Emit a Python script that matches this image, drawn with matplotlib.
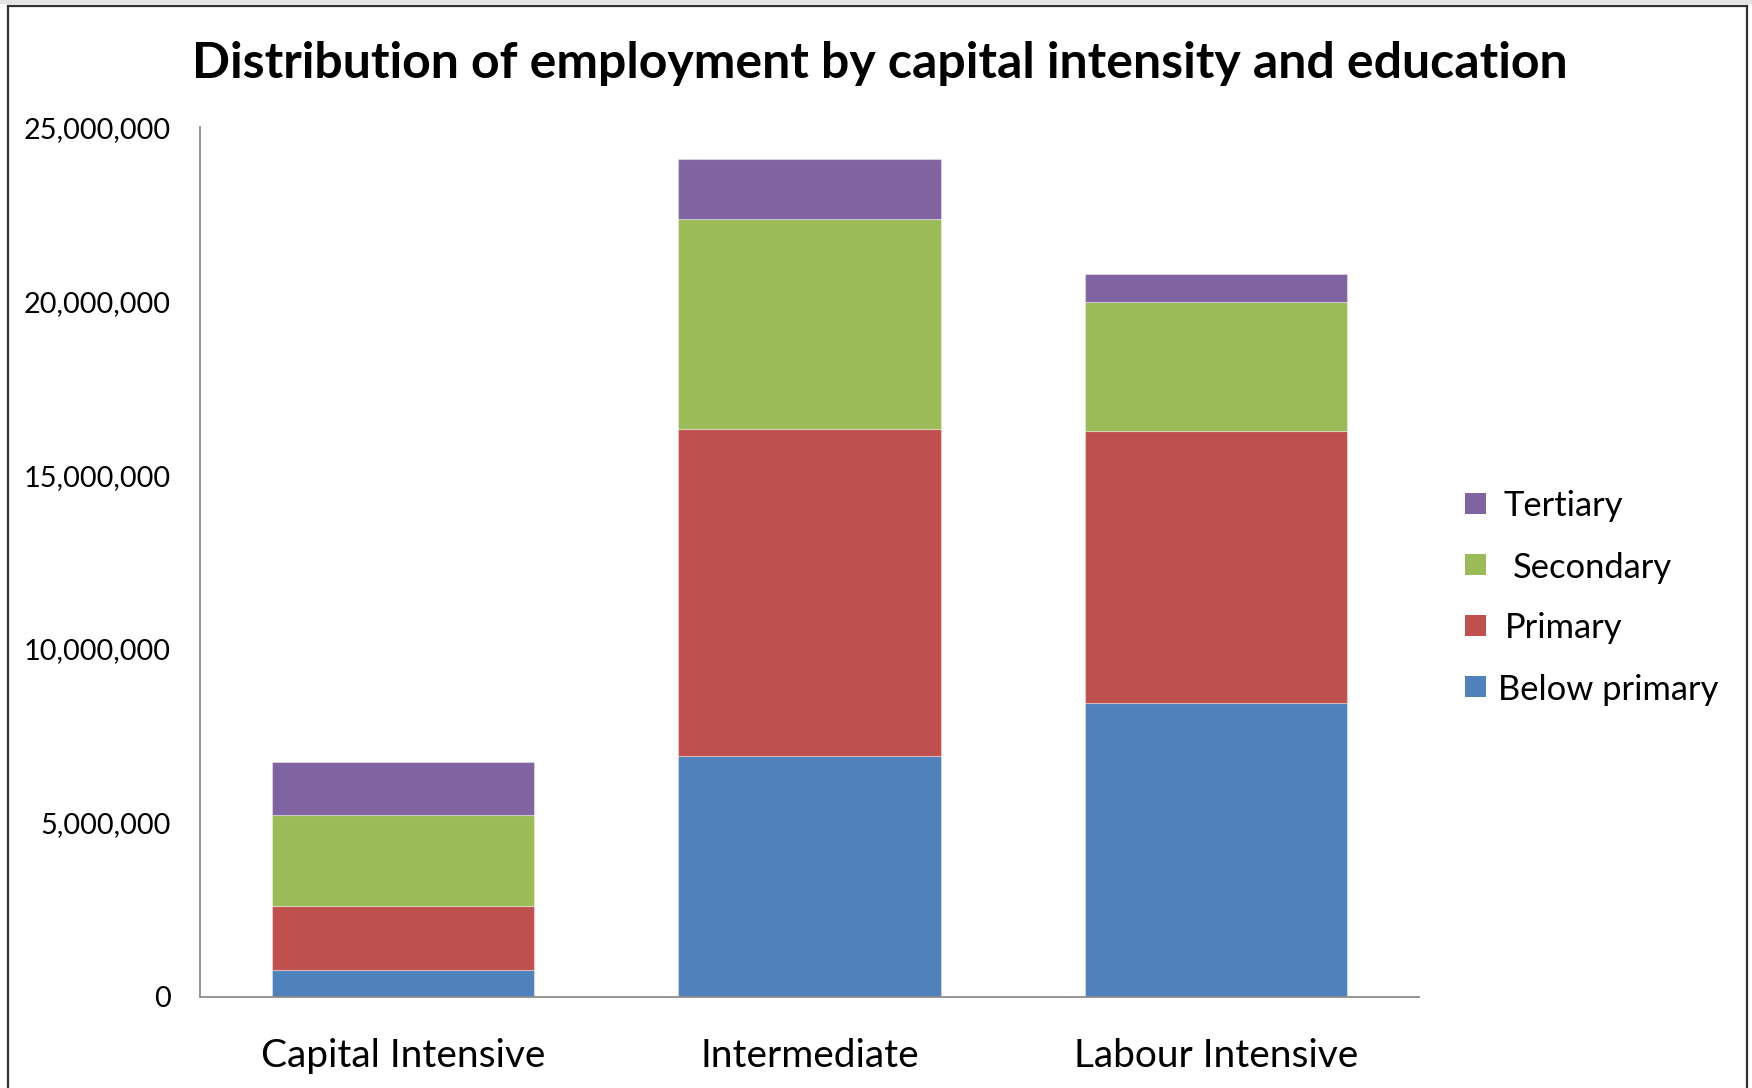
import matplotlib
matplotlib.use("Agg")
import matplotlib.pyplot as plt
from matplotlib.patches import Rectangle
from matplotlib.lines import Line2D
from matplotlib.ticker import FuncFormatter
import numpy as np

plt.rcParams['font.family'] = ['Lato', 'DejaVu Sans']

# Employment (persons) by capital intensity of the sector and education level
categories = ["Capital Intensive", "Intermediate", "Labour Intensive"]
below_primary = [760000, 6920000, 8440000]
primary = [1840000, 9420000, 7830000]
secondary = [2630000, 6030000, 3710000]
tertiary = [1510000, 1710000, 810000]

series_names = ["Below primary", "Primary", "Secondary", "Tertiary"]
series_values = [below_primary, primary, secondary, tertiary]
series_colors = ["#4F81BD", "#C0504D", "#9BBB59", "#8064A2"]

title = "Distribution of employment by capital intensity and education"
y_ticks = [0, 5000000, 10000000, 15000000, 20000000, 25000000]

W, H = 1752, 1088
fig = plt.figure(figsize=(W / 100, H / 100), dpi=100)
fig.patch.set_facecolor("white")

ax = fig.add_axes([200 / W, 1 - 996.7 / H, (1419 - 200) / W, (996.7 - 127.4) / H])

x = np.arange(len(categories))
bottom = np.zeros(len(categories))
for name, vals, col in zip(series_names, series_values, series_colors):
    vals = np.asarray(vals, dtype=float)
    ax.bar(x, vals, width=0.645, bottom=bottom, color=col, label=name,
           edgecolor=(1, 1, 1, 0.35), linewidth=0.8, zorder=2)
    bottom += vals

ax.set_xlim(-0.5, 2.5)
ax.set_ylim(0, 25000000)
ax.set_yticks(y_ticks)
ax.yaxis.set_major_formatter(FuncFormatter(lambda v, p: f"{int(v):,}"))
ax.set_xticks(x)
ax.set_xticklabels(categories)
ax.tick_params(axis="y", length=0, pad=21, labelsize=20.8, labelcolor="black")
ax.tick_params(axis="x", length=0, pad=29.5, labelsize=28, labelcolor="black")

for s in ["top", "right"]:
    ax.spines[s].set_visible(False)
for s in ["left", "bottom"]:
    ax.spines[s].set_color("#8c8c8c")
    ax.spines[s].set_linewidth(1.3)
    ax.spines[s].set_zorder(3)

fig.text(880 / W, 1 - 64 / H, title, ha="center", va="center",
         fontsize=36, fontweight="bold", color="black")

# legend, drawn top-down from Tertiary to Below primary
legend_rows_y = [503.5, 564.5, 625.5, 686.5]
legend_text_x = [1504, 1513, 1505, 1498]
for i, idx in enumerate([3, 2, 1, 0]):
    yc = legend_rows_y[i]
    fig.patches.append(Rectangle((1465 / W, 1 - (yc + 10.5) / H), 21 / W, 21 / H,
                                 transform=fig.transFigure, facecolor=series_colors[idx],
                                 edgecolor="none"))
    fig.text(legend_text_x[i] / W, 1 - yc / H, series_names[idx], ha="left",
             va="center_baseline", fontsize=24.8, color="black")

# outer frame of the chart area
fig.patches.append(Rectangle((0, 1 - 4 / H), 1, 4 / H, transform=fig.transFigure,
                             facecolor="#e4e4e4", edgecolor="none"))
frame_kw = dict(transform=fig.transFigure, color="#333333", linewidth=1.6)
fig.lines.append(Line2D([8 / W, 8 / W], [0, 1 - 5.5 / H], **frame_kw))
fig.lines.append(Line2D([8 / W, 1747 / W], [1 - 5.5 / H, 1 - 5.5 / H], **frame_kw))
fig.lines.append(Line2D([1747 / W, 1747 / W], [0, 1 - 5.5 / H], **frame_kw))

fig.savefig("out.png", dpi=100)
